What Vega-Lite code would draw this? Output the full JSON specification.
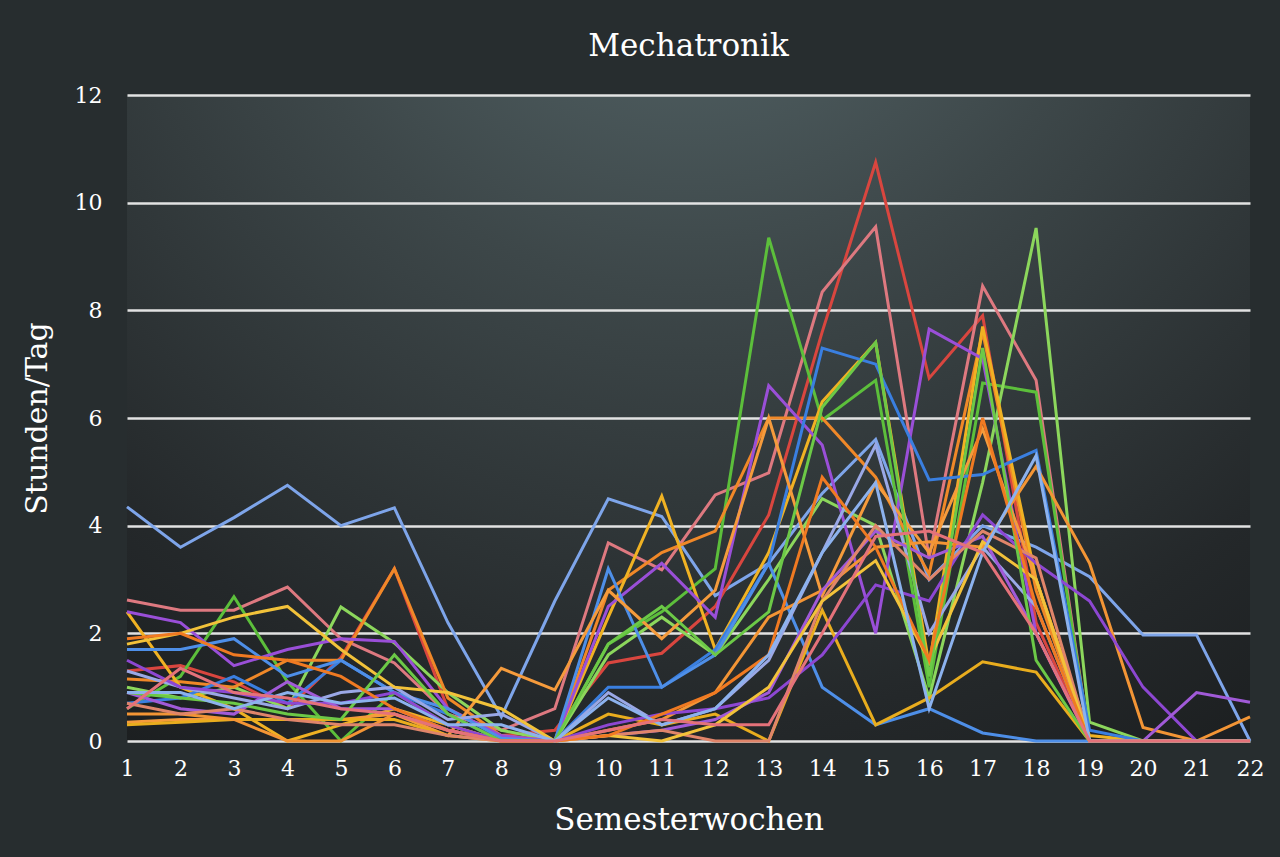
{
"$schema":"https://vega.github.io/schema/vega-lite/v6.json",
"width":1123,"height":646,
"autosize":{"type":"none"},
"padding":{"left":127,"top":95,"right":30,"bottom":116},
"background":"#272d2f",
"config":{"view":{"stroke":null,"fill":{"gradient":"radial","x1":0.5,"y1":0,"r1":0,"x2":0.5,"y2":0,"r2":1.1,"stops":[{"offset":0,"color":"#596b6e"},{"offset":0.35,"color":"#3d4749"},{"offset":0.7,"color":"#24282a"},{"offset":1,"color":"#141617"}]}},"font":"DejaVu Serif"},
"title":{"text":"Mechatronik","fontSize":31,"font":"DejaVu Serif","fontWeight":"normal","color":"#ffffff","offset":21,"anchor":"middle"},
"datasets":{"d":[
{"s":"a","w":1,"v":4.35},{"s":"a","w":2,"v":3.6},{"s":"a","w":3,"v":4.15},{"s":"a","w":4,"v":4.75},{"s":"a","w":5,"v":4.0},{"s":"a","w":6,"v":4.33},{"s":"a","w":7,"v":2.2},{"s":"a","w":8,"v":0.45},{"s":"a","w":9,"v":2.6},{"s":"a","w":10,"v":4.5},{"s":"a","w":11,"v":4.17},{"s":"a","w":12,"v":2.7},{"s":"a","w":13,"v":3.3},{"s":"a","w":14,"v":4.6},{"s":"a","w":15,"v":5.6},{"s":"a","w":16,"v":3.0},{"s":"a","w":17,"v":4.0},{"s":"a","w":18,"v":3.6},{"s":"a","w":19,"v":3.05},{"s":"a","w":20,"v":1.97},{"s":"a","w":21,"v":1.97},{"s":"a","w":22,"v":0},
{"s":"b","w":1,"v":1.3},{"s":"b","w":2,"v":1.4},{"s":"b","w":3,"v":1.1},{"s":"b","w":4,"v":0.6},{"s":"b","w":5,"v":1.55},{"s":"b","w":6,"v":3.2},{"s":"b","w":7,"v":0.6},{"s":"b","w":8,"v":0.1},{"s":"b","w":9,"v":0.2},{"s":"b","w":10,"v":1.45},{"s":"b","w":11,"v":1.63},{"s":"b","w":12,"v":2.5},{"s":"b","w":13,"v":4.2},{"s":"b","w":14,"v":7.6},{"s":"b","w":15,"v":10.75},{"s":"b","w":16,"v":6.74},{"s":"b","w":17,"v":7.9},{"s":"b","w":18,"v":2.2},{"s":"b","w":19,"v":0},{"s":"b","w":20,"v":0},{"s":"b","w":21,"v":0},{"s":"b","w":22,"v":0},
{"s":"c","w":1,"v":2.62},{"s":"c","w":2,"v":2.43},{"s":"c","w":3,"v":2.43},{"s":"c","w":4,"v":2.86},{"s":"c","w":5,"v":1.9},{"s":"c","w":6,"v":1.45},{"s":"c","w":7,"v":0.5},{"s":"c","w":8,"v":0.2},{"s":"c","w":9,"v":0.6},{"s":"c","w":10,"v":3.68},{"s":"c","w":11,"v":3.18},{"s":"c","w":12,"v":4.57},{"s":"c","w":13,"v":4.98},{"s":"c","w":14,"v":8.34},{"s":"c","w":15,"v":9.55},{"s":"c","w":16,"v":3.4},{"s":"c","w":17,"v":8.45},{"s":"c","w":18,"v":6.7},{"s":"c","w":19,"v":0},{"s":"c","w":20,"v":0},{"s":"c","w":21,"v":0},{"s":"c","w":22,"v":0},
{"s":"d","w":1,"v":0.6},{"s":"d","w":2,"v":1.2},{"s":"d","w":3,"v":2.68},{"s":"d","w":4,"v":1.1},{"s":"d","w":5,"v":0},{"s":"d","w":6,"v":0.9},{"s":"d","w":7,"v":0.3},{"s":"d","w":8,"v":0},{"s":"d","w":9,"v":0},{"s":"d","w":10,"v":1.8},{"s":"d","w":11,"v":2.4},{"s":"d","w":12,"v":3.2},{"s":"d","w":13,"v":9.35},{"s":"d","w":14,"v":5.96},{"s":"d","w":15,"v":6.7},{"s":"d","w":16,"v":1.0},{"s":"d","w":17,"v":6.65},{"s":"d","w":18,"v":6.48},{"s":"d","w":19,"v":0},{"s":"d","w":20,"v":0},{"s":"d","w":21,"v":0},{"s":"d","w":22,"v":0},
{"s":"e","w":1,"v":1.0},{"s":"e","w":2,"v":0.8},{"s":"e","w":3,"v":1.0},{"s":"e","w":4,"v":0.6},{"s":"e","w":5,"v":2.49},{"s":"e","w":6,"v":1.82},{"s":"e","w":7,"v":0.9},{"s":"e","w":8,"v":0.2},{"s":"e","w":9,"v":0},{"s":"e","w":10,"v":1.6},{"s":"e","w":11,"v":2.3},{"s":"e","w":12,"v":1.6},{"s":"e","w":13,"v":3.0},{"s":"e","w":14,"v":4.5},{"s":"e","w":15,"v":4.0},{"s":"e","w":16,"v":0.8},{"s":"e","w":17,"v":4.8},{"s":"e","w":18,"v":9.53},{"s":"e","w":19,"v":0.35},{"s":"e","w":20,"v":0},{"s":"e","w":21,"v":0},{"s":"e","w":22,"v":0},
{"s":"f","w":1,"v":1.15},{"s":"f","w":2,"v":1.1},{"s":"f","w":3,"v":1.0},{"s":"f","w":4,"v":1.5},{"s":"f","w":5,"v":1.5},{"s":"f","w":6,"v":3.2},{"s":"f","w":7,"v":0.8},{"s":"f","w":8,"v":0.1},{"s":"f","w":9,"v":0},{"s":"f","w":10,"v":2.8},{"s":"f","w":11,"v":3.5},{"s":"f","w":12,"v":3.9},{"s":"f","w":13,"v":6.0},{"s":"f","w":14,"v":6.0},{"s":"f","w":15,"v":4.9},{"s":"f","w":16,"v":3.1},{"s":"f","w":17,"v":7.6},{"s":"f","w":18,"v":2.8},{"s":"f","w":19,"v":0},{"s":"f","w":20,"v":0},{"s":"f","w":21,"v":0},{"s":"f","w":22,"v":0},
{"s":"g","w":1,"v":2.4},{"s":"g","w":2,"v":1.0},{"s":"g","w":3,"v":0.6},{"s":"g","w":4,"v":0},{"s":"g","w":5,"v":0.3},{"s":"g","w":6,"v":0.6},{"s":"g","w":7,"v":0.3},{"s":"g","w":8,"v":0},{"s":"g","w":9,"v":0},{"s":"g","w":10,"v":2.3},{"s":"g","w":11,"v":4.55},{"s":"g","w":12,"v":1.7},{"s":"g","w":13,"v":3.5},{"s":"g","w":14,"v":6.3},{"s":"g","w":15,"v":7.4},{"s":"g","w":16,"v":1.4},{"s":"g","w":17,"v":7.7},{"s":"g","w":18,"v":3.0},{"s":"g","w":19,"v":0.1},{"s":"g","w":20,"v":0},{"s":"g","w":21,"v":0},{"s":"g","w":22,"v":0},
{"s":"h","w":1,"v":2.4},{"s":"h","w":2,"v":2.2},{"s":"h","w":3,"v":1.4},{"s":"h","w":4,"v":1.7},{"s":"h","w":5,"v":1.9},{"s":"h","w":6,"v":1.85},{"s":"h","w":7,"v":0.6},{"s":"h","w":8,"v":0.1},{"s":"h","w":9,"v":0},{"s":"h","w":10,"v":2.5},{"s":"h","w":11,"v":3.3},{"s":"h","w":12,"v":2.3},{"s":"h","w":13,"v":6.6},{"s":"h","w":14,"v":5.5},{"s":"h","w":15,"v":2.0},{"s":"h","w":16,"v":7.65},{"s":"h","w":17,"v":7.1},{"s":"h","w":18,"v":2.0},{"s":"h","w":19,"v":0},{"s":"h","w":20,"v":0},{"s":"h","w":21,"v":0},{"s":"h","w":22,"v":0},
{"s":"i","w":1,"v":0.7},{"s":"i","w":2,"v":0.8},{"s":"i","w":3,"v":1.2},{"s":"i","w":4,"v":0.7},{"s":"i","w":5,"v":1.5},{"s":"i","w":6,"v":0.9},{"s":"i","w":7,"v":0.5},{"s":"i","w":8,"v":0},{"s":"i","w":9,"v":0},{"s":"i","w":10,"v":1.0},{"s":"i","w":11,"v":1.0},{"s":"i","w":12,"v":1.7},{"s":"i","w":13,"v":3.3},{"s":"i","w":14,"v":7.3},{"s":"i","w":15,"v":7.0},{"s":"i","w":16,"v":4.85},{"s":"i","w":17,"v":4.95},{"s":"i","w":18,"v":5.4},{"s":"i","w":19,"v":0.2},{"s":"i","w":20,"v":0},{"s":"i","w":21,"v":0},{"s":"i","w":22,"v":0},
{"s":"j","w":1,"v":1.7},{"s":"j","w":2,"v":1.7},{"s":"j","w":3,"v":1.9},{"s":"j","w":4,"v":1.2},{"s":"j","w":5,"v":1.5},{"s":"j","w":6,"v":0.9},{"s":"j","w":7,"v":0.6},{"s":"j","w":8,"v":0.05},{"s":"j","w":9,"v":0},{"s":"j","w":10,"v":3.2},{"s":"j","w":11,"v":1.0},{"s":"j","w":12,"v":1.6},{"s":"j","w":13,"v":3.3},{"s":"j","w":14,"v":1.0},{"s":"j","w":15,"v":0.3},{"s":"j","w":16,"v":0.6},{"s":"j","w":17,"v":0.15},{"s":"j","w":18,"v":0},{"s":"j","w":19,"v":0},{"s":"j","w":20,"v":0},{"s":"j","w":21,"v":0},{"s":"j","w":22,"v":0},
{"s":"k","w":1,"v":0.35},{"s":"k","w":2,"v":0.4},{"s":"k","w":3,"v":0.4},{"s":"k","w":4,"v":0.4},{"s":"k","w":5,"v":0.4},{"s":"k","w":6,"v":0.5},{"s":"k","w":7,"v":0.1},{"s":"k","w":8,"v":1.35},{"s":"k","w":9,"v":0.95},{"s":"k","w":10,"v":2.8},{"s":"k","w":11,"v":1.9},{"s":"k","w":12,"v":2.8},{"s":"k","w":13,"v":6.0},{"s":"k","w":14,"v":2.7},{"s":"k","w":15,"v":4.8},{"s":"k","w":16,"v":3.5},{"s":"k","w":17,"v":5.8},{"s":"k","w":18,"v":3.0},{"s":"k","w":19,"v":0},{"s":"k","w":20,"v":0},{"s":"k","w":21,"v":0},{"s":"k","w":22,"v":0},
{"s":"l","w":1,"v":1.3},{"s":"l","w":2,"v":1.0},{"s":"l","w":3,"v":0.8},{"s":"l","w":4,"v":0.6},{"s":"l","w":5,"v":0.9},{"s":"l","w":6,"v":1.0},{"s":"l","w":7,"v":0.4},{"s":"l","w":8,"v":0.5},{"s":"l","w":9,"v":0},{"s":"l","w":10,"v":0.9},{"s":"l","w":11,"v":0.3},{"s":"l","w":12,"v":0.6},{"s":"l","w":13,"v":1.5},{"s":"l","w":14,"v":3.5},{"s":"l","w":15,"v":5.5},{"s":"l","w":16,"v":2.0},{"s":"l","w":17,"v":3.6},{"s":"l","w":18,"v":2.5},{"s":"l","w":19,"v":0},{"s":"l","w":20,"v":0},{"s":"l","w":21,"v":0},{"s":"l","w":22,"v":0},
{"s":"m","w":1,"v":0.3},{"s":"m","w":2,"v":0.35},{"s":"m","w":3,"v":0.4},{"s":"m","w":4,"v":0.4},{"s":"m","w":5,"v":0.4},{"s":"m","w":6,"v":0.4},{"s":"m","w":7,"v":0.1},{"s":"m","w":8,"v":0},{"s":"m","w":9,"v":0},{"s":"m","w":10,"v":0.5},{"s":"m","w":11,"v":0.3},{"s":"m","w":12,"v":0.5},{"s":"m","w":13,"v":0},{"s":"m","w":14,"v":2.43},{"s":"m","w":15,"v":0.3},{"s":"m","w":16,"v":0.8},{"s":"m","w":17,"v":1.47},{"s":"m","w":18,"v":1.28},{"s":"m","w":19,"v":0},{"s":"m","w":20,"v":0},{"s":"m","w":21,"v":0},{"s":"m","w":22,"v":0},
{"s":"n","w":1,"v":0.5},{"s":"n","w":2,"v":0.5},{"s":"n","w":3,"v":0.4},{"s":"n","w":4,"v":0},{"s":"n","w":5,"v":0},{"s":"n","w":6,"v":0.5},{"s":"n","w":7,"v":0.2},{"s":"n","w":8,"v":0},{"s":"n","w":9,"v":0},{"s":"n","w":10,"v":0.2},{"s":"n","w":11,"v":0.4},{"s":"n","w":12,"v":0.9},{"s":"n","w":13,"v":2.3},{"s":"n","w":14,"v":2.8},{"s":"n","w":15,"v":3.6},{"s":"n","w":16,"v":3.7},{"s":"n","w":17,"v":3.6},{"s":"n","w":18,"v":5.1},{"s":"n","w":19,"v":3.3},{"s":"n","w":20,"v":0.25},{"s":"n","w":21,"v":0},{"s":"n","w":22,"v":0.45},
{"s":"o","w":1,"v":1.5},{"s":"o","w":2,"v":1.0},{"s":"o","w":3,"v":0.9},{"s":"o","w":4,"v":0.7},{"s":"o","w":5,"v":0.7},{"s":"o","w":6,"v":0.9},{"s":"o","w":7,"v":0.3},{"s":"o","w":8,"v":0},{"s":"o","w":9,"v":0},{"s":"o","w":10,"v":0.3},{"s":"o","w":11,"v":0.5},{"s":"o","w":12,"v":0.6},{"s":"o","w":13,"v":0.8},{"s":"o","w":14,"v":1.6},{"s":"o","w":15,"v":2.9},{"s":"o","w":16,"v":2.6},{"s":"o","w":17,"v":4.2},{"s":"o","w":18,"v":3.3},{"s":"o","w":19,"v":2.6},{"s":"o","w":20,"v":1.0},{"s":"o","w":21,"v":0},{"s":"o","w":22,"v":0},
{"s":"p","w":1,"v":0.9},{"s":"p","w":2,"v":0.6},{"s":"p","w":3,"v":0.5},{"s":"p","w":4,"v":1.1},{"s":"p","w":5,"v":0.6},{"s":"p","w":6,"v":0.6},{"s":"p","w":7,"v":0.2},{"s":"p","w":8,"v":0},{"s":"p","w":9,"v":0},{"s":"p","w":10,"v":0.1},{"s":"p","w":11,"v":0.2},{"s":"p","w":12,"v":0.4},{"s":"p","w":13,"v":0.9},{"s":"p","w":14,"v":2.8},{"s":"p","w":15,"v":3.9},{"s":"p","w":16,"v":3.4},{"s":"p","w":17,"v":3.8},{"s":"p","w":18,"v":2.0},{"s":"p","w":19,"v":0},{"s":"p","w":20,"v":0},{"s":"p","w":21,"v":0.9},{"s":"p","w":22,"v":0.72},
{"s":"q","w":1,"v":0.7},{"s":"q","w":2,"v":0.5},{"s":"q","w":3,"v":0.6},{"s":"q","w":4,"v":0.4},{"s":"q","w":5,"v":0.3},{"s":"q","w":6,"v":0.3},{"s":"q","w":7,"v":0.1},{"s":"q","w":8,"v":0},{"s":"q","w":9,"v":0},{"s":"q","w":10,"v":0.1},{"s":"q","w":11,"v":0.2},{"s":"q","w":12,"v":0},{"s":"q","w":13,"v":0},{"s":"q","w":14,"v":2.6},{"s":"q","w":15,"v":4.0},{"s":"q","w":16,"v":3.0},{"s":"q","w":17,"v":3.9},{"s":"q","w":18,"v":3.4},{"s":"q","w":19,"v":0},{"s":"q","w":20,"v":0},{"s":"q","w":21,"v":0},{"s":"q","w":22,"v":0},
{"s":"r","w":1,"v":1.8},{"s":"r","w":2,"v":2.0},{"s":"r","w":3,"v":2.3},{"s":"r","w":4,"v":2.5},{"s":"r","w":5,"v":1.7},{"s":"r","w":6,"v":1.0},{"s":"r","w":7,"v":0.9},{"s":"r","w":8,"v":0.6},{"s":"r","w":9,"v":0},{"s":"r","w":10,"v":0.1},{"s":"r","w":11,"v":0},{"s":"r","w":12,"v":0.3},{"s":"r","w":13,"v":1.0},{"s":"r","w":14,"v":2.6},{"s":"r","w":15,"v":3.35},{"s":"r","w":16,"v":1.5},{"s":"r","w":17,"v":3.7},{"s":"r","w":18,"v":3.0},{"s":"r","w":19,"v":0},{"s":"r","w":20,"v":0},{"s":"r","w":21,"v":0},{"s":"r","w":22,"v":0},
{"s":"t","w":1,"v":0.9},{"s":"t","w":2,"v":0.8},{"s":"t","w":3,"v":0.7},{"s":"t","w":4,"v":0.5},{"s":"t","w":5,"v":0.4},{"s":"t","w":6,"v":1.6},{"s":"t","w":7,"v":0.5},{"s":"t","w":8,"v":0},{"s":"t","w":9,"v":0},{"s":"t","w":10,"v":1.8},{"s":"t","w":11,"v":2.5},{"s":"t","w":12,"v":1.6},{"s":"t","w":13,"v":2.4},{"s":"t","w":14,"v":6.2},{"s":"t","w":15,"v":7.4},{"s":"t","w":16,"v":1.2},{"s":"t","w":17,"v":7.3},{"s":"t","w":18,"v":1.5},{"s":"t","w":19,"v":0},{"s":"t","w":20,"v":0},{"s":"t","w":21,"v":0},{"s":"t","w":22,"v":0},
{"s":"u","w":1,"v":1.9},{"s":"u","w":2,"v":2.0},{"s":"u","w":3,"v":1.6},{"s":"u","w":4,"v":1.5},{"s":"u","w":5,"v":1.2},{"s":"u","w":6,"v":0.6},{"s":"u","w":7,"v":0.2},{"s":"u","w":8,"v":0},{"s":"u","w":9,"v":0},{"s":"u","w":10,"v":0.1},{"s":"u","w":11,"v":0.5},{"s":"u","w":12,"v":0.9},{"s":"u","w":13,"v":1.6},{"s":"u","w":14,"v":4.9},{"s":"u","w":15,"v":3.6},{"s":"u","w":16,"v":1.5},{"s":"u","w":17,"v":6.0},{"s":"u","w":18,"v":2.5},{"s":"u","w":19,"v":0},{"s":"u","w":20,"v":0},{"s":"u","w":21,"v":0},{"s":"u","w":22,"v":0},
{"s":"x","w":1,"v":0.9},{"s":"x","w":2,"v":0.9},{"s":"x","w":3,"v":0.6},{"s":"x","w":4,"v":0.9},{"s":"x","w":5,"v":0.7},{"s":"x","w":6,"v":0.8},{"s":"x","w":7,"v":0.3},{"s":"x","w":8,"v":0.3},{"s":"x","w":9,"v":0},{"s":"x","w":10,"v":0.8},{"s":"x","w":11,"v":0.3},{"s":"x","w":12,"v":0.6},{"s":"x","w":13,"v":1.6},{"s":"x","w":14,"v":3.5},{"s":"x","w":15,"v":4.8},{"s":"x","w":16,"v":0.6},{"s":"x","w":17,"v":3.5},{"s":"x","w":18,"v":5.3},{"s":"x","w":19,"v":0},{"s":"x","w":20,"v":0},{"s":"x","w":21,"v":0},{"s":"x","w":22,"v":0},
{"s":"y","w":1,"v":0.6},{"s":"y","w":2,"v":1.35},{"s":"y","w":3,"v":0.9},{"s":"y","w":4,"v":0.8},{"s":"y","w":5,"v":0.6},{"s":"y","w":6,"v":0.5},{"s":"y","w":7,"v":0.2},{"s":"y","w":8,"v":0},{"s":"y","w":9,"v":0},{"s":"y","w":10,"v":0.2},{"s":"y","w":11,"v":0.4},{"s":"y","w":12,"v":0.3},{"s":"y","w":13,"v":0.3},{"s":"y","w":14,"v":2.0},{"s":"y","w":15,"v":3.8},{"s":"y","w":16,"v":3.9},{"s":"y","w":17,"v":3.5},{"s":"y","w":18,"v":2.0},{"s":"y","w":19,"v":0},{"s":"y","w":20,"v":0},{"s":"y","w":21,"v":0},{"s":"y","w":22,"v":0}
]},
"data":{"name":"d"},
"mark":{"type":"line","strokeWidth":3,"strokeJoin":"miter","interpolate":"linear"},
"encoding":{
"x":{"field":"w","type":"quantitative","scale":{"domain":[1,22],"nice":false,"zero":false},
"axis":{"values":[1,2,3,4,5,6,7,8,9,10,11,12,13,14,15,16,17,18,19,20,21,22],"format":"d","domain":false,"ticks":false,"grid":false,"labelColor":"#ffffff","labelFont":"DejaVu Serif","labelFontSize":22,"labelPadding":17,"labelFlush":false,"title":"Semesterwochen","titleColor":"#ffffff","titleFont":"DejaVu Serif","titleFontSize":31,"titleFontWeight":"normal","titlePadding":26}},
"y":{"field":"v","type":"quantitative","scale":{"domain":[0,12],"nice":false},
"axis":{"values":[0,2,4,6,8,10,12],"domain":false,"ticks":false,"grid":true,"gridColor":"#ececec","gridWidth":2.5,"gridOpacity":0.95,"labelColor":"#ffffff","labelFont":"DejaVu Serif","labelFontSize":22,"labelPadding":25,"title":"Stunden/Tag","titleColor":"#ffffff","titleFont":"DejaVu Serif","titleFontSize":30,"titleFontWeight":"normal","titlePadding":22}},
"color":{"field":"s","type":"nominal","legend":null,
"scale":{"domain":["a","b","c","d","e","f","g","h","i","j","k","l","m","n","o","p","q","r","t","u","x","y"],
"range":["#7ea5ea","#d9463f","#de7980","#5cbf3b","#8cd75c","#f08828","#f0b223","#9a4fd8","#3a7fe0","#4e8fe8","#f59b3c","#9aa8e6","#e9ad1e","#f39535","#8d47d2","#a15ad8","#e0856a","#f2c23a","#6cc947","#f07a22","#8cb2ee","#e4727a"]}}
}
}
